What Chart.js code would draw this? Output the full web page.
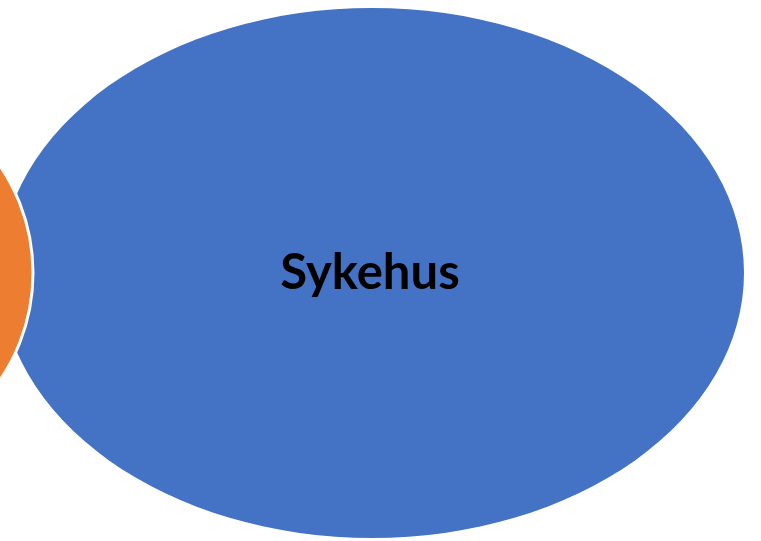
<!DOCTYPE html>
<html>
<head>
<meta charset="utf-8">
<script src="https://cdn.jsdelivr.net/npm/chart.js@4.4.1/dist/chart.umd.min.js"></script>
<style>
    html, body { margin: 0; padding: 0; background: #ffffff; }
    #wrap { width: 761px; height: 541px; }
</style>
</head>
<body>
<div id="wrap"><canvas id="vennChart" width="761" height="541"></canvas></div>
<script>
// Shapes, drawn in this order (blue ellipse first, orange circle on top)
const shapeLabels = ['Sykehus', ''];
const centerX = [372, -157];
const centerY = [273, 273];
const radiusX = [372, 190];
const radiusY = [265, 190];
const shapeColors = ['#4472C4', '#ED7D31'];
const borderWidths = [0, 3];

// Draw each shape as an ellipse around its point, sized through the scales
const ellipsePlugin = {
    id: 'ellipses',
    afterDatasetsDraw(chart) {
        const ctx = chart.ctx;
        const xs = chart.scales.x;
        const ys = chart.scales.y;
        chart.data.datasets.forEach((ds) => {
            const p = ds.data[0];
            const px = xs.getPixelForValue(p.x);
            const py = ys.getPixelForValue(p.y);
            const rx = Math.abs(xs.getPixelForValue(p.x + p.rx) - px);
            const ry = Math.abs(ys.getPixelForValue(p.y + p.ry) - py);
            ctx.save();
            ctx.beginPath();
            ctx.ellipse(px, py, rx, ry, 0, 0, Math.PI * 2);
            ctx.fillStyle = ds.backgroundColor;
            ctx.fill();
            if (ds.borderWidth) {
                ctx.lineWidth = ds.borderWidth;
                ctx.strokeStyle = '#ffffff';
                ctx.stroke();
            }
            ctx.restore();
        });
        // labels on top
        chart.data.datasets.forEach((ds) => {
            if (!ds.label) return;
            const p = ds.data[0];
            ctx.save();
            ctx.fillStyle = '#000000';
            ctx.font = 'bold 49px Lato';
            ctx.textAlign = 'center';
            ctx.textBaseline = 'middle';
            ctx.fillText(ds.label, xs.getPixelForValue(p.x) - 2, ys.getPixelForValue(p.y));
            ctx.restore();
        });
    }
};

const ctx = document.getElementById('vennChart').getContext('2d');
new Chart(ctx, {
    type: 'scatter',
    data: {
        datasets: shapeLabels.map((label, i) => ({
            label: label,
            data: [{ x: centerX[i], y: centerY[i], rx: radiusX[i], ry: radiusY[i] }],
            backgroundColor: shapeColors[i],
            borderWidth: borderWidths[i],
            pointRadius: 0,
            pointHoverRadius: 0
        }))
    },
    options: {
        responsive: false,
        animation: false,
        layout: { padding: 0 },
        scales: {
            x: { type: 'linear', min: 0, max: 761, display: false },
            y: { type: 'linear', min: 0, max: 541, reverse: true, display: false }
        },
        plugins: {
            legend: { display: false },
            tooltip: { enabled: false }
        }
    },
    plugins: [ellipsePlugin]
});
</script>
</body>
</html>
